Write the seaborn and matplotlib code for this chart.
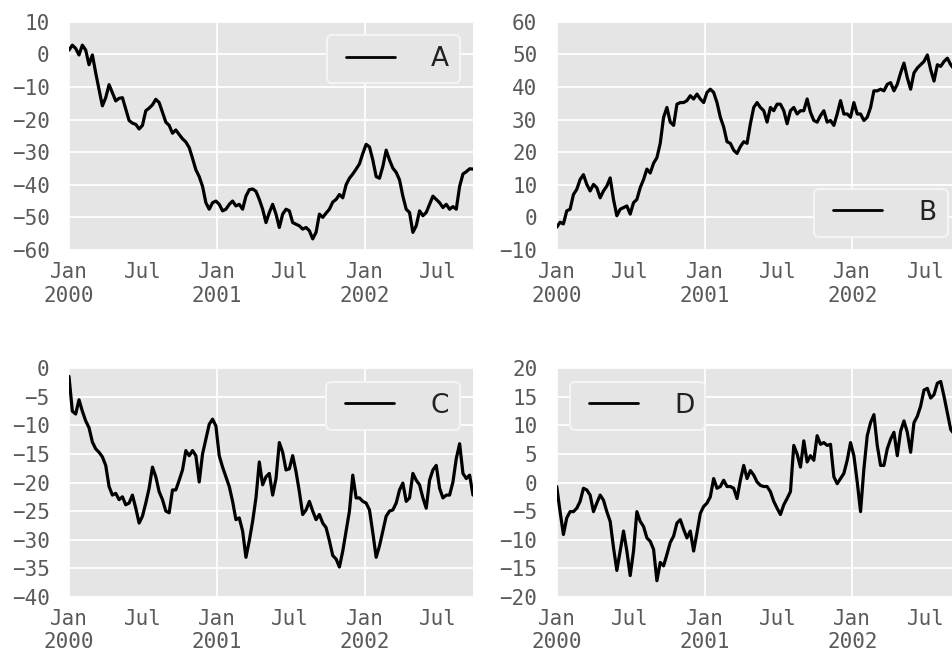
import numpy as np
import pandas as pd
import matplotlib
matplotlib.use("Agg")
import matplotlib.pyplot as plt
import matplotlib.dates as mdates
from matplotlib.ticker import MultipleLocator
import seaborn as sns

# ---- data ----
start_date = "2000-01-01"
end_date = "2002-09-26"
n_points = 122

A = [1.3, 2.8, 1.8, -0.2, 2.8, 1.3, -3.2, -0.2, -5.7, -10.8,
     -15.8, -13.3, -9.3, -11.8, -14.3, -13.5, -13.3, -16.8, -20.3, -21.1,
     -21.5, -22.9, -21.8, -17.3, -16.5, -15.5, -13.8, -14.8, -17.8, -20.8,
     -21.8, -24.2, -23.2, -24.6, -25.9, -26.9, -28.6, -31.9, -35.4, -37.5,
     -40.5, -45.5, -47.5, -45.5, -45.0, -46.0, -48.0, -47.5, -46.0, -45.0,
     -46.5, -46.0, -47.5, -43.5, -41.5,
     -41.3, -42.0, -44.5, -47.5, -51.6, -48.5, -46.0, -49.0, -53.1, -49.0,
     -47.5, -48.0, -51.6, -52.1, -52.6, -53.6, -53.1, -54.1, -56.6, -54.6,
     -49.0, -50.0, -48.7, -47.5, -45.3, -44.5, -43.0, -44.0, -40.0, -38.0,
     -36.7, -35.2, -33.6, -30.4, -27.6, -28.4, -32.4, -37.5, -38.0, -34.4,
     -29.4, -32.4, -34.9, -36.2, -38.5, -43.5, -47.5, -48.5, -54.6, -52.6,
     -48.0, -49.5, -48.5, -46.0, -43.5, -44.5, -45.5, -47.0, -46.0, -47.5,
     -46.7, -47.5, -40.5, -36.7, -36.0, -35.1, -35.2]

B = [-3.0, -1.5, -2.0, 2.0, 2.5, 7.0, 8.6, 11.6, 13.1, 10.1,
     8.1, 10.1, 9.1, 6.0, 8.1, 9.6, 12.1, 5.5, 0.5, 2.5,
     3.0, 3.5, 1.0, 4.5, 5.5, 9.1, 11.6, 14.8, 13.6, 16.6,
     18.3, 22.7, 30.7, 33.7, 29.2, 28.2, 34.7, 35.2, 35.2, 35.8,
     37.3, 36.3, 37.8, 36.3, 35.2, 38.3, 39.3, 38.3, 35.2, 30.7,
     27.7, 23.2,
     22.7, 20.6, 19.6, 21.7, 23.2, 22.7, 28.7, 33.7, 35.2, 33.7,
     32.7, 29.2, 33.7, 32.7, 34.7, 34.7, 32.7, 28.7, 32.7, 33.7,
     31.7, 32.7, 32.7, 36.3, 32.2, 29.7, 29.2, 31.2, 32.7, 29.2,
     29.7, 28.2, 31.7, 35.8, 31.7, 31.7, 30.7, 35.2, 31.7, 31.7,
     29.7, 30.7, 33.7, 38.8, 38.8, 39.3, 38.8, 40.8, 41.3, 38.8,
     40.8, 44.3, 47.3, 42.8, 39.3, 44.3, 45.8, 46.8, 47.8, 49.8,
     45.3, 41.8, 46.8, 46.3, 47.8, 48.8, 46.8,
     45.5, 46.5, 45.8]

C = [-1.4, -7.5, -8.0, -5.5, -7.5, -9.2, -10.4, -12.9, -14.1, -14.7,
     -15.5, -17.0, -20.7, -22.2, -21.9, -23.0, -22.5, -23.9, -23.6, -22.2,
     -24.5, -27.1, -25.9, -23.6, -21.0, -17.3, -19.0, -21.6, -23.0, -25.0,
     -25.3, -21.3, -21.3, -19.6, -17.8, -14.4, -15.3, -14.4, -15.3, -19.9,
     -15.0, -12.4, -9.8, -8.9, -10.1, -15.3, -17.3, -19.0, -20.7, -23.3,
     -26.5, -26.2, -28.5, -33.1, -30.2,
     -26.8, -22.7, -16.4, -20.4, -19.0, -18.4, -22.2, -19.3, -13.0, -14.7,
     -17.8, -17.6, -15.3, -18.1, -21.6, -25.6, -24.8, -23.3, -25.0, -26.5,
     -25.6, -27.1, -27.9, -30.2, -32.8, -33.4, -34.8, -32.0, -28.5, -25.0,
     -18.7, -22.7, -22.7, -23.3, -23.6, -24.8, -28.8, -33.1, -31.1, -28.5,
     -25.9, -25.0, -24.8, -23.6, -21.3, -20.1, -23.3, -22.7, -18.4, -19.6,
     -20.4, -22.7, -24.5, -19.6, -17.8, -17.0, -21.0, -22.7, -22.2, -22.2,
     -19.9, -15.8, -13.2, -18.4, -19.3, -18.7, -22.2]

D = [-0.7, -5.1, -9.1, -6.2, -5.1, -5.1, -4.5, -3.3, -1.0, -1.3,
     -2.2, -5.1, -3.6, -2.2, -3.1, -5.1, -6.8, -11.4, -15.4, -12.0,
     -8.5, -12.0, -16.3, -12.0, -5.1, -6.8, -7.7, -9.7, -10.3, -11.7,
     -17.2, -14.0, -14.6, -12.6, -10.5, -9.4, -7.1, -6.5, -8.2, -9.7,
     -8.5, -12.0, -8.8, -5.4, -4.2, -3.6, -2.5, 0.7, -1.0, -0.7,
     0.4, -0.7,
     -0.7, -1.0, -2.8, 0.4, 3.0, 0.7, 2.1, 1.3, 0.1, -0.5,
     -0.7, -0.7, -1.6, -3.3, -4.5, -5.6, -3.9, -2.8, -1.6, 6.5,
     5.0, 2.7, 7.3, 3.6, 4.7, 3.9, 8.2, 6.7, 7.0, 6.5,
     6.7, 1.0, -0.2, 0.7, 1.6, 3.9, 7.0, 4.7, 0.1, -5.1,
     2.4, 8.2, 10.5, 11.9, 6.5, 3.0, 3.0, 5.9, 7.6, 8.8,
     4.7, 9.0, 10.8, 8.8, 5.3, 10.5, 11.6, 13.4, 16.2, 16.5,
     14.8, 15.4, 17.4, 17.7, 15.1, 12.2, 9.3,
     8.5, 10.0, 9.0]

series_names = ["A", "B", "C", "D"]
y_limits = [(-60, 10), (-10, 60), (-40, 0), (-20, 20)]
y_steps = [10, 10, 5, 5]
legend_locs = ["upper right", "lower right", "upper right", "upper left"]

# ---- style ----
sns.set_style("darkgrid", {"axes.facecolor": "#E5E5E5", "grid.color": "white"})
plt.rcParams["font.family"] = ["DejaVu Sans Mono"]
plt.rcParams["axes.unicode_minus"] = True

dates = pd.date_range(start_date, end_date, periods=n_points)
all_values = [A, B, C, D]

fig = plt.figure(figsize=(9.53, 6.61), dpi=100)
axes_rects = [
    [0.0724, 0.6218, 0.4239, 0.3454],
    [0.5842, 0.6218, 0.4239, 0.3454],
    [0.0724, 0.0973, 0.4239, 0.3454],
    [0.5842, 0.0973, 0.4239, 0.3454],
]

for name, vals, rect, ylim, step, loc in zip(series_names, all_values, axes_rects,
                                            y_limits, y_steps, legend_locs):
    ax = fig.add_axes(rect)
    df = pd.DataFrame({"date": dates, "value": vals})
    sns.lineplot(data=df, x="date", y="value", ax=ax, color="black",
                 linewidth=2.3, label=name, estimator=None)
    ax.set_xlim(dates[0], dates[-1])
    ax.set_ylim(*ylim)
    ax.yaxis.set_major_locator(MultipleLocator(step))
    ax.xaxis.set_major_locator(mdates.YearLocator())
    ax.xaxis.set_major_formatter(mdates.DateFormatter("%b\n%Y"))
    ax.xaxis.set_minor_locator(mdates.MonthLocator(bymonth=7))
    ax.xaxis.set_minor_formatter(mdates.DateFormatter("%b"))
    ax.set_xlabel("")
    ax.set_ylabel("")
    ax.grid(True, which="major", color="white", linewidth=1.3)
    ax.grid(False, which="minor")
    for s in ax.spines.values():
        s.set_visible(False)
    ax.tick_params(axis="both", which="both", length=0, labelsize=15,
                   labelcolor="#5a5a5a")
    ax.tick_params(axis="x", which="both", pad=9)
    ax.tick_params(axis="y", which="both", pad=14)
    leg = ax.legend(loc=loc, prop={"family": "DejaVu Sans", "size": 19},
                    numpoints=2, handlelength=2.46, handletextpad=1.06,
                    borderpad=0.42, borderaxespad=0.5, fancybox=True,
                    frameon=True, facecolor="#E5E5E5", edgecolor="#F4F4F4",
                    framealpha=1.0)
    leg.get_frame().set_linewidth(1.5)
    for t in leg.get_texts():
        t.set_color("#222222")
    for ln in leg.get_lines():
        ln.set_linewidth(2.0)

fig.savefig("out.png", dpi=100)
